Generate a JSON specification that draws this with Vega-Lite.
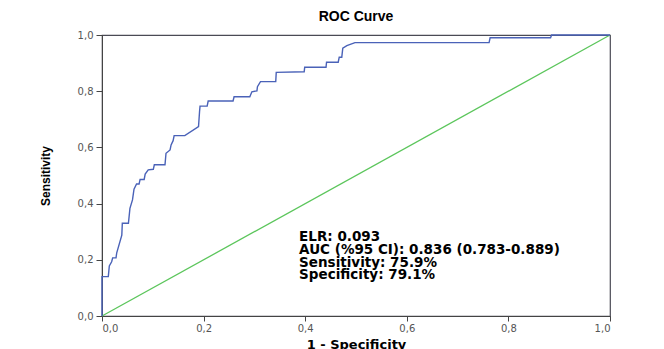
{
  "$schema": "https://vega.github.io/schema/vega-lite/v6.json",
  "width": 508,
  "height": 281,
  "autosize": "none",
  "padding": {"left": 102, "top": 35, "right": 54, "bottom": 33},
  "background": "white",
  "config": {
    "view": {"stroke": "#4a4a55", "strokeWidth": 1.2},
    "font": "Liberation Sans"
  },
  "title": {"text": "ROC Curve", "fontSize": 14, "fontWeight": "bold", "font": "Liberation Sans", "color": "#000", "offset": 6, "anchor": "middle"},
  "datasets": {
    "roc": [
      {"fpr": 0, "tpr": 0}, {"fpr": 0, "tpr": 0.14}, {"fpr": 0.0124, "tpr": 0.14}, {"fpr": 0.0144, "tpr": 0.178},
      {"fpr": 0.019, "tpr": 0.193}, {"fpr": 0.021, "tpr": 0.207}, {"fpr": 0.0276, "tpr": 0.207}, {"fpr": 0.029, "tpr": 0.225},
      {"fpr": 0.039, "tpr": 0.288}, {"fpr": 0.04, "tpr": 0.33}, {"fpr": 0.052, "tpr": 0.33}, {"fpr": 0.055, "tpr": 0.383},
      {"fpr": 0.06, "tpr": 0.413}, {"fpr": 0.063, "tpr": 0.451}, {"fpr": 0.068, "tpr": 0.47}, {"fpr": 0.073, "tpr": 0.47},
      {"fpr": 0.075, "tpr": 0.486}, {"fpr": 0.083, "tpr": 0.486}, {"fpr": 0.085, "tpr": 0.505}, {"fpr": 0.091, "tpr": 0.52},
      {"fpr": 0.101, "tpr": 0.522}, {"fpr": 0.103, "tpr": 0.538}, {"fpr": 0.124, "tpr": 0.538}, {"fpr": 0.126, "tpr": 0.579},
      {"fpr": 0.134, "tpr": 0.591}, {"fpr": 0.136, "tpr": 0.609}, {"fpr": 0.14, "tpr": 0.624}, {"fpr": 0.142, "tpr": 0.642},
      {"fpr": 0.163, "tpr": 0.642}, {"fpr": 0.19, "tpr": 0.674}, {"fpr": 0.192, "tpr": 0.727}, {"fpr": 0.193, "tpr": 0.747},
      {"fpr": 0.207, "tpr": 0.747}, {"fpr": 0.209, "tpr": 0.765}, {"fpr": 0.258, "tpr": 0.765}, {"fpr": 0.26, "tpr": 0.78},
      {"fpr": 0.291, "tpr": 0.78}, {"fpr": 0.295, "tpr": 0.798}, {"fpr": 0.305, "tpr": 0.801}, {"fpr": 0.306, "tpr": 0.816},
      {"fpr": 0.312, "tpr": 0.834}, {"fpr": 0.342, "tpr": 0.834}, {"fpr": 0.343, "tpr": 0.867}, {"fpr": 0.398, "tpr": 0.869},
      {"fpr": 0.399, "tpr": 0.885}, {"fpr": 0.441, "tpr": 0.885}, {"fpr": 0.442, "tpr": 0.903}, {"fpr": 0.465, "tpr": 0.903},
      {"fpr": 0.467, "tpr": 0.921}, {"fpr": 0.472, "tpr": 0.921}, {"fpr": 0.474, "tpr": 0.953}, {"fpr": 0.482, "tpr": 0.962},
      {"fpr": 0.498, "tpr": 0.973}, {"fpr": 0.762, "tpr": 0.973}, {"fpr": 0.764, "tpr": 0.99}, {"fpr": 0.883, "tpr": 0.99},
      {"fpr": 0.885, "tpr": 1}, {"fpr": 1, "tpr": 1}
    ],
    "diag": [{"fpr": 0, "tpr": 0}, {"fpr": 1, "tpr": 1}],
    "notes": [
      {"label": "ELR: 0.093", "fx": 0.388, "ty": 0.28},
      {"label": "AUC (%95 CI): 0.836 (0.783-0.889)", "fx": 0.388, "ty": 0.235},
      {"label": "Sensitivity: 75.9%", "fx": 0.388, "ty": 0.19},
      {"label": "Specificity: 79.1%", "fx": 0.388, "ty": 0.146}
    ]
  },
  "layer": [
    {
      "data": {"name": "diag"},
      "mark": {"type": "line", "color": "#5cc65c", "strokeWidth": 1.3},
      "encoding": {
        "x": {"field": "fpr", "type": "quantitative", "scale": {"domain": [0, 1]},
          "axis": {"title": "1 - Specificity", "values": [0, 0.2, 0.4, 0.6, 0.8, 1], "grid": false,
            "labelExpr": "replace(format(datum.value, '.1f'), '.', ',')",
            "labelFont": "DejaVu Sans", "labelFontSize": 10, "labelColor": "#555", "tickColor": "#444", "domainColor": "#444", "tickSize": 5,
            "labelPadding": 2, "titleFont": "DejaVu Sans", "titleFontSize": 13, "titleFontWeight": "bold", "titleColor": "#000", "titlePadding": 5}},
        "y": {"field": "tpr", "type": "quantitative", "scale": {"domain": [0, 1]},
          "axis": {"title": "Sensitivity", "values": [0, 0.2, 0.4, 0.6, 0.8, 1], "grid": false,
            "labelExpr": "replace(format(datum.value, '.1f'), '.', ',')",
            "labelFont": "DejaVu Sans", "labelFontSize": 10, "labelColor": "#555", "tickColor": "#444", "domainColor": "#444", "tickSize": 6,
            "labelPadding": 3, "titleFontSize": 12, "titleFontWeight": "bold", "titleColor": "#000", "titlePadding": 25,
            "titleFont": "Liberation Sans"}}
      }
    },
    {
      "data": {"name": "roc"},
      "mark": {"type": "line", "color": "#4a62b8", "strokeWidth": 1.4},
      "encoding": {
        "x": {"field": "fpr", "type": "quantitative"},
        "y": {"field": "tpr", "type": "quantitative"},
        "order": {"field": "fpr", "type": "quantitative"}
      }
    },
    {
      "data": {"name": "notes"},
      "mark": {"type": "text", "align": "left", "baseline": "middle", "fontSize": 13.5, "fontWeight": "bold", "font": "DejaVu Sans", "color": "#000"},
      "encoding": {
        "x": {"field": "fx", "type": "quantitative"},
        "y": {"field": "ty", "type": "quantitative"},
        "text": {"field": "label"}
      }
    }
  ]
}
